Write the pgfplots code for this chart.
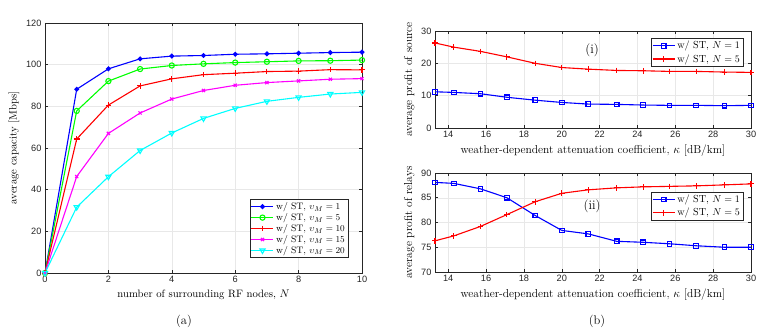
\documentclass[border=0pt]{standalone}
\usepackage{fontspec}
\usepackage{pgfplots}
\pgfplotsset{compat=1.18}
\newfontfamily\ticksf{Liberation Sans}

\definecolor{axgray}{gray}{0.15}
\definecolor{mblue}{rgb}{0,0,1}
\definecolor{mgreen}{rgb}{0,1,0}
\definecolor{mred}{rgb}{1,0,0}
\definecolor{mmag}{rgb}{1,0,1}
\definecolor{mcyan}{rgb}{0,1,1}
\pgfplotsset{
  mstyle/.style={
    scale only axis,
    axis line style={axgray, line width=0.5pt},
    tick style={axgray, line width=0.5pt},
    major tick length=3pt,
    tick align=inside,
    grid=major, grid style={gray!18, line width=0.4pt},
    tick label style={font=\ticksf\fontsize{9.2}{10}\selectfont, text=axgray},
    /pgf/number format/assume math mode=true,
    legend style={draw=axgray, line width=0.5pt,
      inner sep=1pt, legend cell align=left},
    legend image code/.code={\draw[mark repeat=2, mark phase=2]
      plot coordinates {(0pt,0pt) (11pt,0pt) (22pt,0pt)};},
    legend image post style={line width=1.1pt},
    every axis plot/.append style={line width=1.1pt},
  },
}

\begin{document}
\begin{tikzpicture}
\useasboundingbox (0pt,0pt) rectangle (764pt,331pt);

% (a)
\begin{axis}[mstyle,
  at={(45pt,58pt)}, anchor=south west, width=317pt, height=250pt,
  xmin=0, xmax=10, ymin=0, ymax=120,
  xtick={0,2,...,10}, ytick={0,20,...,120},
  label style={font=\fontsize{10.7}{12}\selectfont},
  xlabel={number of surrounding RF nodes, $N$},
  ylabel={average capacity [Mbps]},
  legend style={at={(0.956,0.06)}, anchor=south east,
    font=\fontsize{9.4}{10.5}\selectfont, row sep=-1.6pt},
]
\addplot[color=mblue, mark=*, mark size=1.9pt] coordinates {
 (0,0) (1,88.2) (2,98.0) (3,102.8) (4,104.1) (5,104.4) (6,105.0) (7,105.2) (8,105.5) (9,105.8) (10,106.0)};
\addlegendentry{w/ ST, $\upsilon_M=1$}
\addplot[color=mgreen, mark=o, mark size=2.6pt] coordinates {
 (0,0) (1,77.8) (2,92.1) (3,97.9) (4,99.6) (5,100.4) (6,101.0) (7,101.4) (8,101.8) (9,101.9) (10,102.2)};
\addlegendentry{w/ ST, $\upsilon_M=5$}
\addplot[color=mred, mark=+, mark size=2.8pt] coordinates {
 (0,0) (1,64.3) (2,80.6) (3,89.8) (4,93.2) (5,95.2) (6,95.9) (7,96.7) (8,96.9) (9,97.6) (10,97.5)};
\addlegendentry{w/ ST, $\upsilon_M=10$}
\addplot[color=mmag, mark=x, mark size=2.2pt] coordinates {
 (0,0) (1,46.3) (2,67.0) (3,76.8) (4,83.5) (5,87.6) (6,90.1) (7,91.4) (8,92.2) (9,93.0) (10,93.3)};
\addlegendentry{w/ ST, $\upsilon_M=15$}
\addplot[color=mcyan, mark=triangle, mark options={rotate=180}, mark size=3pt] coordinates {
 (0,0) (1,31.6) (2,46.2) (3,58.8) (4,67.2) (5,74.2) (6,79.0) (7,82.4) (8,84.3) (9,85.9) (10,86.7)};
\addlegendentry{w/ ST, $\upsilon_M=20$}
\end{axis}

% (b)-(i)
\begin{axis}[mstyle,
  at={(435pt,203pt)}, anchor=south west, width=316pt, height=97pt,
  xmin=13.3, xmax=30, ymin=0, ymax=30,
  xtick={14,16,...,30}, ytick={0,10,20,30},
  label style={font=\fontsize{11.5}{12.5}\selectfont},
  xlabel={weather-dependent attenuation coefficient, $\kappa$ [dB/km]},
  ylabel={average profit of source},
  legend style={at={(0.975,0.928)}, anchor=north east,
    font=\fontsize{10.2}{11.5}\selectfont},
]
\addplot[color=mblue, mark=square, mark size=2.3pt] coordinates {
 (13.3,11.2) (14.3,11.0) (15.7,10.6) (17.1,9.5) (18.6,8.6) (20,7.9) (21.4,7.4) (22.9,7.3) (24.3,7.1) (25.7,7.0) (27.1,7.0) (28.6,6.9) (30,7.0)};
\addlegendentry{w/ ST, $N=1$}
\addplot[color=mred, mark=+, mark size=2.8pt] coordinates {
 (13.3,26.3) (14.3,25.0) (15.7,23.7) (17.1,22.0) (18.6,20.0) (20,18.7) (21.4,18.2) (22.9,17.8) (24.3,17.7) (25.7,17.5) (27.1,17.5) (28.6,17.3) (30,17.2)};
\addlegendentry{w/ ST, $N=5$}
\node[font=\fontsize{13}{14}\selectfont] at (axis cs:21.6,24) {(i)};
\end{axis}

% (b)-(ii)
\begin{axis}[mstyle,
  at={(435pt,59pt)}, anchor=south west, width=316pt, height=99pt,
  xmin=13.3, xmax=30, ymin=70, ymax=90,
  xtick={14,16,...,30}, ytick={70,75,...,90},
  label style={font=\fontsize{11.5}{12.5}\selectfont},
  xlabel={weather-dependent attenuation coefficient, $\kappa$ [dB/km]},
  ylabel={average profit of relays},
  legend style={at={(0.975,0.81)}, anchor=north east,
    font=\fontsize{10.2}{11.5}\selectfont},
]
\addplot[color=mblue, mark=square, mark size=2.3pt] coordinates {
 (13.3,88.1) (14.3,87.9) (15.7,86.8) (17.1,85.0) (18.6,81.4) (20,78.4) (21.4,77.7) (22.9,76.2) (24.3,76.0) (25.7,75.7) (27.1,75.3) (28.6,75.0) (30,75.0)};
\addlegendentry{w/ ST, $N=1$}
\addplot[color=mred, mark=+, mark size=2.8pt] coordinates {
 (13.3,76.3) (14.3,77.3) (15.7,79.2) (17.1,81.6) (18.6,84.2) (20,85.9) (21.4,86.6) (22.9,87.0) (24.3,87.2) (25.7,87.3) (27.1,87.4) (28.6,87.6) (30,87.8)};
\addlegendentry{w/ ST, $N=5$}
\node[font=\fontsize{13}{14}\selectfont] at (axis cs:21.6,83.3) {(ii)};
\end{axis}

\node[font=\fontsize{12.5}{14}\selectfont] at (184pt,10pt) {(a)};
\node[font=\fontsize{12.5}{14}\selectfont] at (597pt,10pt) {(b)};
\end{tikzpicture}
\end{document}
